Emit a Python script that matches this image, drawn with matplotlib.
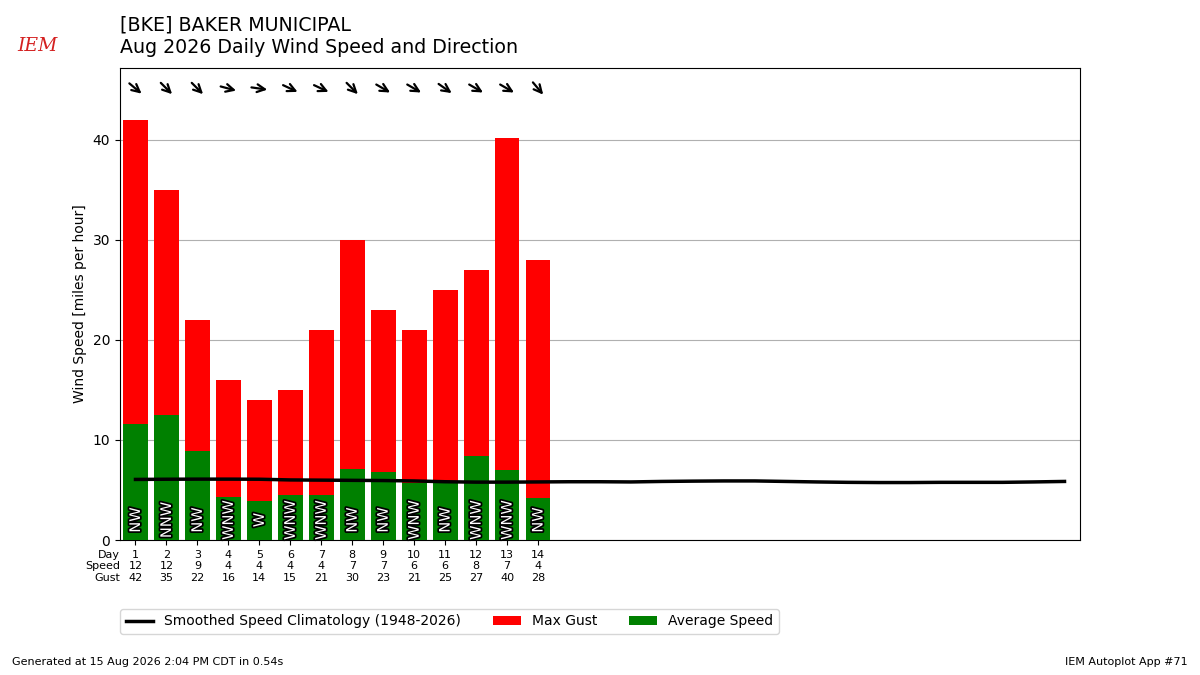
import numpy as np
import matplotlib
matplotlib.use("Agg")
import matplotlib.pyplot as plt
import matplotlib.patheffects as PathEffects
from matplotlib.transforms import offset_copy

# -------- data --------
days = np.arange(1, 15)
avg_speed = [11.6, 12.5, 8.9, 4.3, 3.9, 4.5, 4.5, 7.1, 6.8, 5.7, 5.8, 8.4, 7.0, 4.2]
max_gust = [42, 35, 22, 16, 14, 15, 21, 30, 23, 21, 25, 27, 40.2, 28]
dir_labels = ["NW", "NNW", "NW", "WNW", "W", "WNW", "WNW", "NW", "NW", "WNW",
              "NW", "WNW", "WNW", "NW"]
dir_deg = [310, 315, 315, 285, 278, 295, 295, 315, 300, 300, 305, 300, 300, 320]
speed_lbl = [12, 12, 9, 4, 4, 4, 4, 7, 7, 6, 6, 8, 7, 4]
gust_lbl = [42, 35, 22, 16, 14, 15, 21, 30, 23, 21, 25, 27, 40, 28]

clim_days = np.arange(1, 32)
clim_speed = [6.05, 6.07, 6.08, 6.08, 6.07, 6.0, 5.98, 5.96, 5.94, 5.9,
              5.82, 5.78, 5.78, 5.8, 5.82, 5.82, 5.8, 5.85, 5.88, 5.9,
              5.9, 5.85, 5.8, 5.76, 5.74, 5.74, 5.76, 5.76, 5.76, 5.8, 5.85]

# -------- figure --------
fig = plt.figure(figsize=(12, 6.75), dpi=100)
ax = fig.add_axes([0.1, 0.2, 0.8, 0.7])

ax.plot(clim_days, clim_speed, color="k", lw=2.5, zorder=4,
        label="Smoothed Speed Climatology (1948-2026)")
ax.bar(days, max_gust, width=0.8, color="r", label="Max Gust", zorder=2)
ax.bar(days, avg_speed, width=0.8, color="g", label="Average Speed", zorder=3)

# direction text in bars
for d, lbl in zip(days, dir_labels):
    t = ax.text(d, 2.0, lbl, rotation=90, ha="center", va="center",
                color="white", fontsize=10.5, zorder=5)
    t.set_path_effects([PathEffects.withStroke(linewidth=2.5, foreground="k")])

# direction arrows at top, centred on each day
for d, deg in zip(days, dir_deg):
    rad = np.radians(deg + 180)
    dx = np.sin(rad) * 8
    dy = np.cos(rad) * 8
    head = offset_copy(ax.transData, fig=fig, x=dx, y=dy, units="dots")
    tail = offset_copy(ax.transData, fig=fig, x=-dx, y=-dy, units="dots")
    ax.annotate("", xy=(d, 45.1), xycoords=head,
                xytext=(d, 45.1), textcoords=tail,
                arrowprops=dict(arrowstyle="->", lw=1.6, color="k",
                                shrinkA=0, shrinkB=0, mutation_scale=14))

ax.set_xlim(0.5, 31.5)
ax.set_ylim(0, 47.2)
ax.set_yticks([0, 10, 20, 30, 40])
ax.set_xticks(days)
ax.set_xticklabels([f"{d}\n{s}\n{g}" for d, s, g in zip(days, speed_lbl, gust_lbl)],
                   fontsize=8)
ax.annotate("Day\nSpeed\nGust", xy=(0, 0), xycoords="axes fraction",
            xytext=(0, -7), textcoords="offset points", ha="right", va="top",
            fontsize=8)
ax.grid(axis="y")
ax.set_axisbelow(True)
ax.set_ylabel("Wind Speed [miles per hour]")

fig.legend(ncol=3, loc="upper left", bbox_to_anchor=(0.1, 0.098),
           borderaxespad=0, fontsize=10, columnspacing=2.3)

fig.text(0.1, 0.963, "[BKE] BAKER MUNICIPAL", fontsize=13.7, va="center")
fig.text(0.1, 0.929, "Aug 2026 Daily Wind Speed and Direction", fontsize=13.7,
         va="center")
fig.text(0.01, 0.015, "Generated at 15 Aug 2026 2:04 PM CDT in 0.54s", fontsize=8)
fig.text(0.99, 0.015, "IEM Autoplot App #71", fontsize=8, ha="right")
fig.text(0.031, 0.932, "IEM", color="#d42020", fontsize=13.5, family="serif",
         style="italic", ha="center", va="center")

fig.savefig("out.png", dpi=100)
